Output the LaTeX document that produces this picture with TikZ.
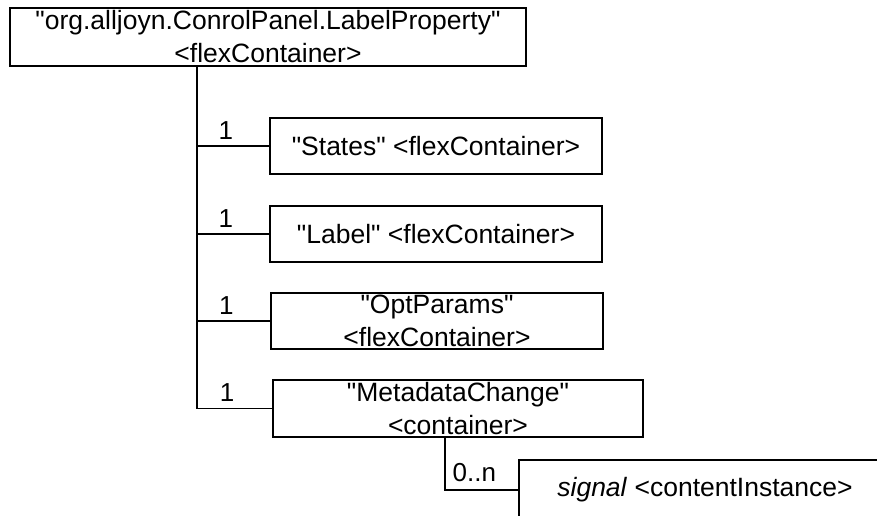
\documentclass[tikz,border=0pt]{standalone}
\usepackage{fontspec}
\setmainfont{Liberation Sans}[Ligatures=TeXReset]
\usetikzlibrary{calc}

\begin{document}
\begin{tikzpicture}[x=1pt,y=-1pt,
		box/.style={draw,line width=1.4pt,rectangle,align=center,inner sep=0pt,font=\fontsize{26.5}{33}\selectfont},
		conn/.style={line width=1.4pt},
		mult/.style={font=\fontsize{26}{32}\selectfont,inner sep=2pt,yshift=4pt}]
		\useasboundingbox (0,0) rectangle (877,516);
		\node[box,minimum width=516pt,minimum height=58pt] (root) at (268,37) {"org.alljoyn.ConrolPanel.LabelProperty"\\<flexContainer>};
		\node[box,minimum width=332pt,minimum height=56pt] (states) at (436,146) {"States" <flexContainer>};
		\node[box,minimum width=332pt,minimum height=56pt] (label) at (436,234) {"Label" <flexContainer>};
		\node[box,minimum width=332pt,minimum height=56pt] (optparams) at (437,321) {"OptParams"\\<flexContainer>};
		\node[box,minimum width=370pt,minimum height=57pt] (metachange) at (458,408.5) {"MetadataChange"\\<container>};
		\node[box,minimum width=372pt,minimum height=60pt] (signal) at (705,490) {\textit{signal} <contentInstance>};
		\coordinate (trunk) at (197,66);
		\coordinate (sub) at (445,437);
		\foreach \b in {states,label,optparams,metachange}{
		\draw[conn] (trunk) |- (\b.west) node[mult,pos=0.7,above] {1};
		}
		\draw[conn] (sub) |- (signal.west) node[mult,pos=0.7,above,yshift=2pt] {0..n};
		\end{tikzpicture}
\end{document}
